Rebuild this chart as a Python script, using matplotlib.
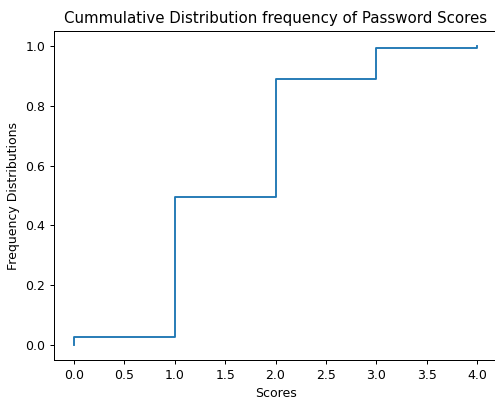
import numpy as np
import matplotlib
matplotlib.use("Agg")
import matplotlib.pyplot as plt

# Password strength scores and the cumulative fraction before/after each score
scores = [0, 1, 2, 3, 4]
cum_before = [0.0, 0.028, 0.495, 0.889, 0.994]
cum_after = [0.028, 0.495, 0.889, 0.994, 1.0]

x = np.repeat(scores, 2)
y = np.column_stack([cum_before, cum_after]).ravel()

W, H = 495, 401
DPI = 90
fig = plt.figure(figsize=(W / DPI, H / DPI), dpi=DPI)
ax = fig.add_axes([54 / W, 41 / H, (497 - 54) / W, (360 - 31) / H])

ax.plot(x, y, color="#1f77b4", linewidth=1.5)
ax.set_title("Cummulative Distribution frequency of Password Scores")
ax.set_xlabel("Scores")
ax.set_ylabel("Frequency Distributions")
ax.set_xticks(np.arange(0, 4.01, 0.5))
ax.set_yticks(np.arange(0, 1.01, 0.2))

fig.savefig("out.png", dpi=DPI)
